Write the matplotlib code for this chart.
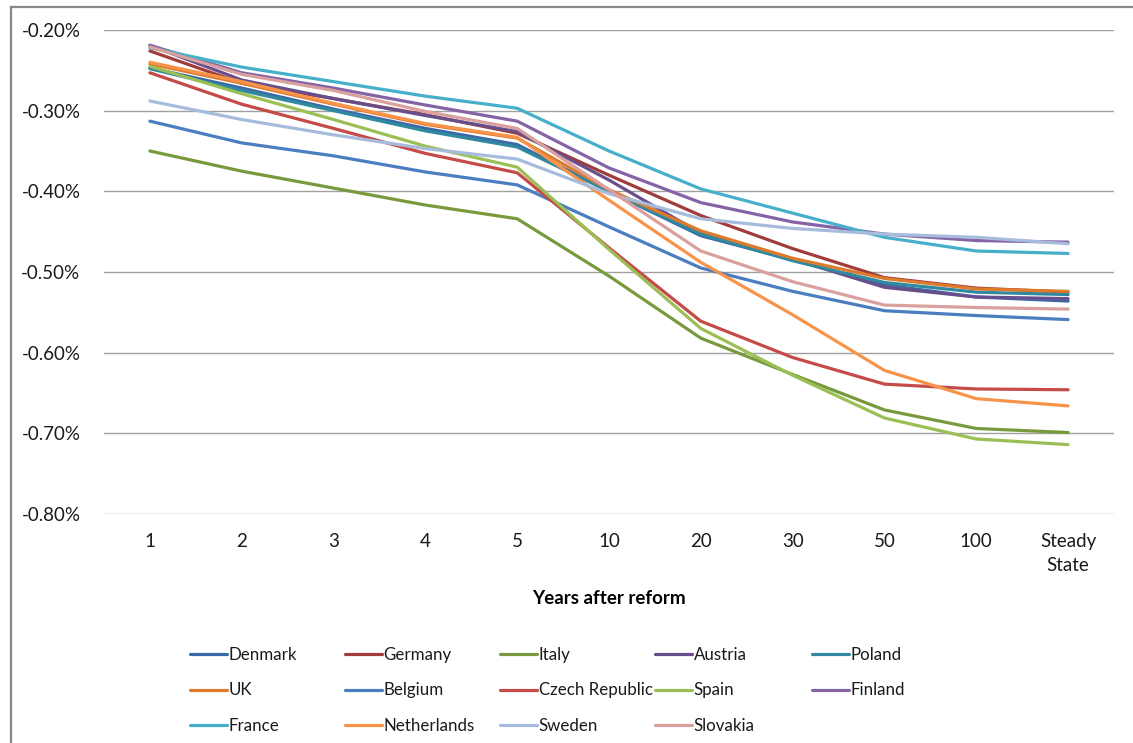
import numpy as np
import matplotlib.pyplot as plt
from matplotlib.patches import Rectangle

plt.rcParams['font.family'] = ['Lato', 'DejaVu Sans']

# category axis (years after the reform)
years = ["1", "2", "3", "4", "5", "10", "20", "30", "50", "100", "Steady\nState"]

# change in the series, in percent
denmark = [-0.247, -0.272, -0.298, -0.322, -0.342, -0.400, -0.455, -0.485, -0.516, -0.531, -0.536]
germany = [-0.226, -0.266, -0.285, -0.305, -0.328, -0.380, -0.430, -0.471, -0.507, -0.520, -0.525]
italy = [-0.350, -0.375, -0.396, -0.417, -0.434, -0.505, -0.582, -0.627, -0.671, -0.694, -0.699]
austria = [-0.219, -0.262, -0.285, -0.306, -0.326, -0.386, -0.452, -0.484, -0.519, -0.531, -0.533]
poland = [-0.248, -0.275, -0.300, -0.325, -0.345, -0.400, -0.453, -0.486, -0.513, -0.525, -0.528]
uk = [-0.242, -0.266, -0.292, -0.317, -0.334, -0.398, -0.449, -0.483, -0.508, -0.521, -0.524]
belgium = [-0.313, -0.340, -0.356, -0.376, -0.392, -0.444, -0.495, -0.524, -0.548, -0.554, -0.559]
czech = [-0.253, -0.292, -0.322, -0.353, -0.377, -0.470, -0.561, -0.606, -0.639, -0.645, -0.646]
spain = [-0.245, -0.279, -0.311, -0.344, -0.370, -0.472, -0.570, -0.628, -0.681, -0.707, -0.714]
finland = [-0.219, -0.253, -0.272, -0.293, -0.313, -0.371, -0.414, -0.438, -0.453, -0.461, -0.463]
france = [-0.222, -0.246, -0.264, -0.282, -0.297, -0.350, -0.397, -0.427, -0.457, -0.474, -0.477]
netherlands = [-0.240, -0.264, -0.291, -0.316, -0.333, -0.411, -0.488, -0.553, -0.622, -0.657, -0.666]
sweden = [-0.288, -0.311, -0.330, -0.347, -0.360, -0.403, -0.434, -0.446, -0.453, -0.457, -0.465]
slovakia = [-0.221, -0.255, -0.275, -0.301, -0.322, -0.398, -0.474, -0.512, -0.541, -0.544, -0.546]

countries = ["Denmark", "Germany", "Italy", "Austria", "Poland",
             "UK", "Belgium", "Czech Republic", "Spain", "Finland",
             "France", "Netherlands", "Sweden", "Slovakia"]
series = [denmark, germany, italy, austria, poland,
          uk, belgium, czech, spain, finland,
          france, netherlands, sweden, slovakia]
colors = ["#3d68a6", "#a03c3a", "#789a3d", "#684f8b", "#2f8aa0",
          "#de7a2c", "#4a7ec0", "#c44b48", "#9bbf55", "#8464a6",
          "#47afc9", "#f7944a", "#a7bcdc", "#d9a09e"]

W, H = 1133, 743
fig = plt.figure(figsize=(W / 100, H / 100), dpi=100)
ax = fig.add_axes([104 / W, 1 - 514 / H, (1114 - 104) / W, (514 - 30) / H])

x = np.arange(len(years))
lines = []
for name, vals, c in zip(countries, series, colors):
    ln, = ax.plot(x, vals, color=c, lw=2.3, label=name, solid_capstyle='round')
    lines.append(ln)

ax.set_xlim(-0.5, len(years) - 0.5)
ax.set_ylim(-0.8, -0.2)
ax.set_yticks(np.arange(-0.8, -0.19, 0.1))
ax.set_yticklabels([f"{v:.2f}%" for v in np.arange(-0.8, -0.19, 0.1)])
ax.set_xticks(x)
ax.set_xticklabels(years, linespacing=1.45)
ax.yaxis.grid(True, color="#a0a0a0", lw=1.0)
ax.set_axisbelow(True)
for s in ax.spines.values():
    s.set_visible(False)
ax.tick_params(axis='both', length=0, labelsize=13.5, colors="#1a1a1a")
ax.tick_params(axis='y', pad=17)
ax.tick_params(axis='x', pad=14)
ax.set_xlabel("Years after reform", fontsize=13.5, fontweight='bold', labelpad=12)

# legend: five equally spaced columns, three rows
col_x = [190, 345, 500, 655, 812]
for i, cx in enumerate(col_x):
    hs = lines[i::5]
    leg = fig.legend(handles=hs, loc='upper left', bbox_to_anchor=(cx / W, 1 - 647 / H),
                     frameon=False, fontsize=12.2, handlelength=2.2, handletextpad=0.08,
                     borderpad=0, borderaxespad=0, labelspacing=1.15)
    for t in leg.get_texts():
        t.set_color("#1a1a1a")

# outer chart border
fig.patches.append(Rectangle((11 / W, -0.05), 1.1, 1.05 - 7 / H, transform=fig.transFigure,
                             fill=False, edgecolor="#888888", lw=1.6))

fig.savefig("out.png", dpi=100)
